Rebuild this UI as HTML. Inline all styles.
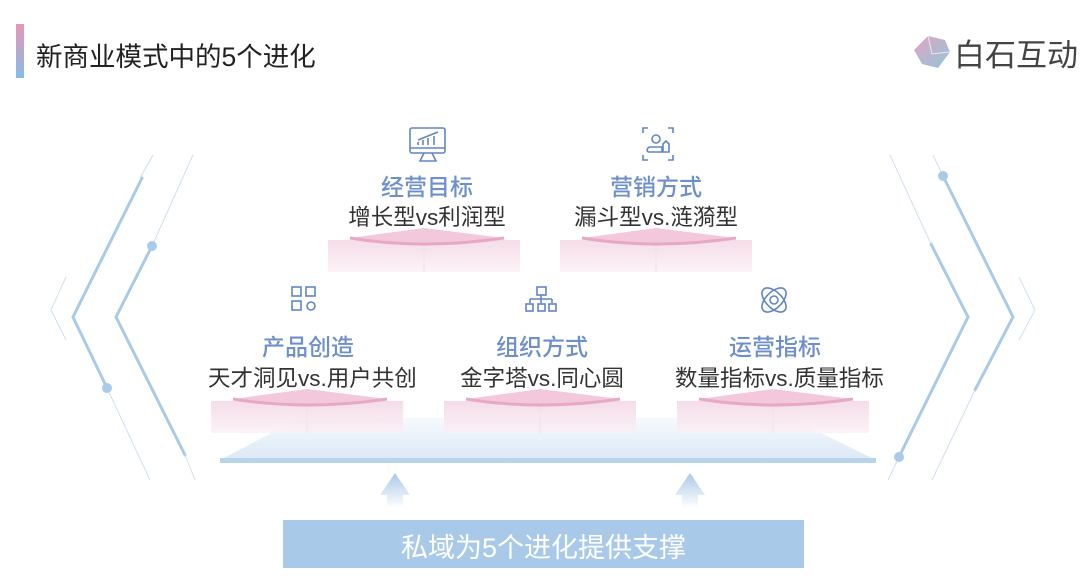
<!DOCTYPE html>
<html><head><meta charset="utf-8"><style>
body{margin:0;width:1080px;height:586px;background:#fff;position:relative;overflow:hidden;font-family:"Liberation Sans","Noto Sans CJK SC",sans-serif}
.t{position:absolute;text-align:center;white-space:nowrap}
.ti{color:#6d8fcc;font-size:23px;font-weight:500}
.st{color:#333;font-size:22.5px}
</style></head><body>
<svg width="1080" height="586" style="position:absolute;left:0;top:0">
<defs>
<linearGradient id="bar" x1="0" y1="0" x2="0" y2="1"><stop offset="0" stop-color="#e895b8"/><stop offset="1" stop-color="#85bde6"/></linearGradient>
<linearGradient id="box" x1="0" y1="0" x2="0" y2="1"><stop offset="0" stop-color="#f3d6e4"/><stop offset="1" stop-color="#fbf1f6"/></linearGradient>
<linearGradient id="plane" x1="0" y1="0" x2="0" y2="1"><stop offset="0" stop-color="#f5f9fd"/><stop offset="1" stop-color="#dce9f6"/></linearGradient>
<linearGradient id="arr" x1="0" y1="0" x2="0" y2="1"><stop offset="0" stop-color="#a9c9e8"/><stop offset="1" stop-color="#a9c9e8" stop-opacity="0"/></linearGradient>
<linearGradient id="logo" x1="0" y1="0" x2="1" y2="1"><stop offset="0" stop-color="#e2a6c3"/><stop offset="1" stop-color="#8fc5d8"/></linearGradient>
<g id="plat">
<rect x="0" y="12" width="192" height="32" fill="url(#box)" opacity="0.85"/>
<polygon points="22,10 96,0 176,10 96,18" fill="#f3c8dd"/>
<path d="M22,10 Q96,22 176,10" stroke="#e7a8c6" stroke-width="3" fill="none"/>
<line x1="96" y1="18" x2="96" y2="44" stroke="#f3e0ea"/>
</g>
</defs>
<rect x="16" y="24" width="8" height="54" fill="url(#bar)"/>
<polygon points="928,36 945,40 950,52 938,68 922,64 914,50" fill="url(#logo)"/>
<polyline points="928,36 932,54 950,52 M932,54 922,64" stroke="#fff" stroke-width="1" fill="none" opacity="0.7"/>
<g stroke="#a9cbe9" stroke-width="3" fill="none" stroke-linecap="round">
<polyline points="142,178 73,317 107,388"/>
<polyline points="152,246 116,317 185,455"/>
<polyline points="943,176 1013,317 975,390"/>
<polyline points="931,244 968,317 899,457"/>
</g>
<g stroke="#cfe0f1" stroke-width="1" fill="none">
<line x1="152" y1="246" x2="193" y2="155"/><line x1="107" y1="388" x2="150" y2="480"/>
<line x1="140" y1="178" x2="153" y2="155"/><line x1="185" y1="455" x2="195" y2="480"/>
<polyline points="66,277 51,310 66,340"/>
<polyline points="1019,277 1035,310 1019,340"/>
<line x1="890" y1="155" x2="931" y2="244"/><line x1="975" y1="390" x2="932" y2="480"/>
<line x1="899" y1="457" x2="888" y2="480"/><line x1="943" y1="176" x2="933" y2="155"/>
</g>
<g fill="#a9cbe9"><circle cx="152" cy="246" r="5"/><circle cx="107" cy="388" r="5"/><circle cx="943" cy="176" r="5"/><circle cx="899" cy="457" r="5"/></g>
<polygon points="220,460 300,418 790,418 876,460" fill="url(#plane)"/>
<rect x="220" y="458" width="656" height="5" fill="#b8d3ec"/>
<use href="#plat" x="328" y="228"/>
<use href="#plat" x="560" y="228"/>
<use href="#plat" x="211" y="389"/>
<use href="#plat" x="444" y="389"/>
<use href="#plat" x="677" y="389"/>
<polygon points="395,473 380,495 387,495 387,508 403,508 403,495 410,495" fill="url(#arr)"/>
<polygon points="690,473 675,495 682,495 682,508 698,508 698,495 705,495" fill="url(#arr)"/>
<rect x="283" y="520" width="521" height="48" fill="#a9c9e8"/>
<g stroke="#6385c4" stroke-width="1.6" fill="none">
<rect x="410" y="128" width="35" height="25" rx="2"/><line x1="410" y1="148" x2="445" y2="148"/>
<path d="M424,153 L420,161 L436,161 L432,153"/>
<path d="M418,145 v-3 M423,145 v-5 M428,145 v-7 M434,145 v-9 M418,140 L438,132"/>
<path d="M643,133 v-5 h5 M673,133 v-5 h-5 M643,155 v5 h5 M673,155 v5 h-5"/>
<circle cx="656" cy="139" r="4"/><path d="M648,152 h14 v-5 h-12 a3,3 0 0 0 -2,5"/><path d="M663,152 v-8 l3,-3 l3,3 v8 z"/>
<rect x="292" y="287" width="9" height="9"/><rect x="306" y="287" width="9" height="9"/><rect x="292" y="301" width="9" height="9"/><circle cx="311" cy="306" r="4"/>
<rect x="537" y="287" width="9" height="8"/><path d="M541,295 v4 M530,299 h22 M530,299 v4 M541,299 v4 M552,299 v4"/>
<rect x="526" y="304" width="7" height="7"/><rect x="538" y="304" width="7" height="7"/><rect x="549" y="304" width="7" height="7"/>
<ellipse cx="774" cy="300" rx="15" ry="8" transform="rotate(45 774 300)"/><ellipse cx="774" cy="300" rx="15" ry="8" transform="rotate(-45 774 300)"/><circle cx="774" cy="300" r="4"/>
</g>
</svg>
<div class="t" style="left:36px;top:35px;font-size:26.5px;color:#222">新商业模式中的5个进化</div>
<div class="t" style="left:954px;top:30px;font-size:31px;color:#444">白石互动</div>
<div class="t ti" style="left:327px;width:200px;top:168px">经营目标</div>
<div class="t st" style="left:327px;width:200px;top:200px">增长型vs利润型</div>
<div class="t ti" style="left:556px;width:200px;top:168px">营销方式</div>
<div class="t st" style="left:556px;width:200px;top:200px">漏斗型vs.涟漪型</div>
<div class="t ti" style="left:208px;width:200px;top:328px">产品创造</div>
<div class="t st" style="left:208px;width:200px;top:361px">天才洞见vs.用户共创</div>
<div class="t ti" style="left:442px;width:200px;top:328px">组织方式</div>
<div class="t st" style="left:442px;width:200px;top:361px">金字塔vs.同心圆</div>
<div class="t ti" style="left:675px;width:200px;top:328px">运营指标</div>
<div class="t st" style="left:675px;width:200px;top:361px">数量指标vs.质量指标</div>
<div class="t" style="left:283px;width:521px;top:526px;font-size:27px;color:#fff">私域为5个进化提供支撑</div>
</body></html>
